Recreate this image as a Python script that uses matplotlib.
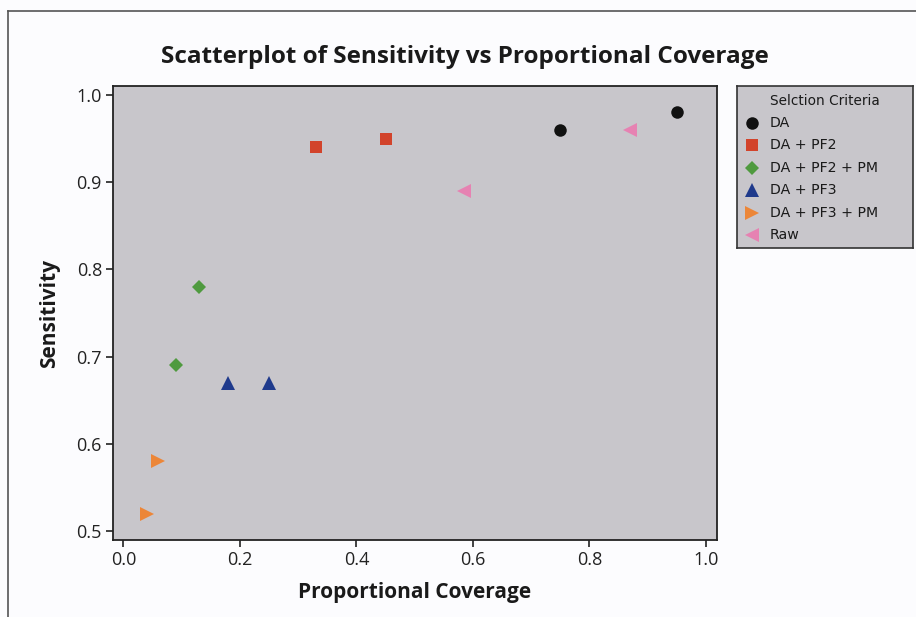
import matplotlib
matplotlib.use("Agg")
import matplotlib.pyplot as plt
from matplotlib.lines import Line2D

# Selection criteria groups and their (coverage, sensitivity) pairs
groups = ["DA", "DA + PF2", "DA + PF2 + PM", "DA + PF3", "DA + PF3 + PM", "Raw"]
coverage = {
    "DA": [0.75, 0.95],
    "DA + PF2": [0.33, 0.45],
    "DA + PF2 + PM": [0.09, 0.13],
    "DA + PF3": [0.18, 0.25],
    "DA + PF3 + PM": [0.06, 0.04],
    "Raw": [0.585, 0.87],
}
sensitivity = {
    "DA": [0.96, 0.98],
    "DA + PF2": [0.94, 0.95],
    "DA + PF2 + PM": [0.69, 0.78],
    "DA + PF3": [0.67, 0.67],
    "DA + PF3 + PM": [0.58, 0.52],
    "Raw": [0.89, 0.96],
}
x_ticks = [0.0, 0.2, 0.4, 0.6, 0.8, 1.0]
y_ticks = [0.5, 0.6, 0.7, 0.8, 0.9, 1.0]

styles = {
    "DA": dict(marker="o", color="#111111", ms=9.0),
    "DA + PF2": dict(marker="s", color="#d2432b", ms=8.5),
    "DA + PF2 + PM": dict(marker="D", color="#4f9a3f", ms=7.5),
    "DA + PF3": dict(marker="^", color="#1f3a8c", ms=9.5),
    "DA + PF3 + PM": dict(marker=">", color="#ec8638", ms=9.5),
    "Raw": dict(marker="<", color="#e682b2", ms=9.5),
}

W, H = 916, 617
fig = plt.figure(figsize=(W / 100, H / 100), dpi=100)
fig.patch.set_facecolor("#fcfcfe")

# Outer frame (top and left edges)
fig.add_artist(Line2D([8 / W, 1.0], [1 - 11 / H, 1 - 11 / H], color="#555555", lw=1.2))
fig.add_artist(Line2D([8 / W, 8 / W], [1 - 11 / H, 0.0], color="#555555", lw=1.2))

panel = "#c8c6cb"
ax = fig.add_axes([113 / W, 1 - 540 / H, (717 - 113) / W, (540 - 86) / H])
ax.set_facecolor(panel)
for g in groups:
    st = styles[g]
    ax.plot(coverage[g], sensitivity[g], linestyle="none", marker=st["marker"],
            color=st["color"], markersize=st["ms"], markeredgewidth=0)

ax.set_xlim(-0.018, 1.019)
ax.set_ylim(0.4897, 1.0103)
ax.set_xticks(x_ticks)
ax.set_xticklabels([f"{v:.1f}" for v in x_ticks])
ax.set_yticks(y_ticks)
ax.set_yticklabels([f"{v:.1f}" for v in y_ticks])
ax.tick_params(direction="out", length=5, width=1.2, color="#222222",
               labelsize=13, labelcolor="#222222", pad=3)
for lbl in ax.get_xticklabels() + ax.get_yticklabels():
    lbl.set_family("Open Sans")
for sp in ax.spines.values():
    sp.set_color("#222222")
    sp.set_linewidth(1.3)

ax.set_xlabel("Proportional Coverage", fontsize=15, fontweight="bold",
              family="Open Sans", color="#1a1a1a", labelpad=9)
ax.set_ylabel("Sensitivity", fontsize=15, fontweight="bold",
              family="Open Sans", color="#1a1a1a", labelpad=12)
fig.text(465 / W, 1 - 57 / H, "Scatterplot of Sensitivity vs Proportional Coverage",
         ha="center", va="center", fontsize=17.5, fontweight="bold",
         family="Open Sans", color="#1a1a1a")

# Legend panel
lx0, ly0, lx1, ly1 = 737, 86, 913, 248
lax = fig.add_axes([lx0 / W, 1 - ly1 / H, (lx1 - lx0) / W, (ly1 - ly0) / H])
lax.set_facecolor(panel)
lax.set_xlim(lx0, lx1)
lax.set_ylim(ly1, ly0)
lax.set_xticks([])
lax.set_yticks([])
for sp in lax.spines.values():
    sp.set_color("#333333")
    sp.set_linewidth(1.2)
lax.text(770, 101, "Selction Criteria", ha="left", va="center", fontsize=9.8,
         family="DejaVu Sans", color="#1a1a1a")
row_y = [123, 145, 168, 190, 213, 235]
for g, yy in zip(groups, row_y):
    st = styles[g]
    lax.plot([752], [yy], linestyle="none", marker=st["marker"], color=st["color"],
             markersize=st["ms"], markeredgewidth=0)
    lax.text(770, yy, g, ha="left", va="center", fontsize=10.2,
             family="DejaVu Sans", color="#1a1a1a")

fig.savefig("out.png", dpi=100, facecolor=fig.get_facecolor())
